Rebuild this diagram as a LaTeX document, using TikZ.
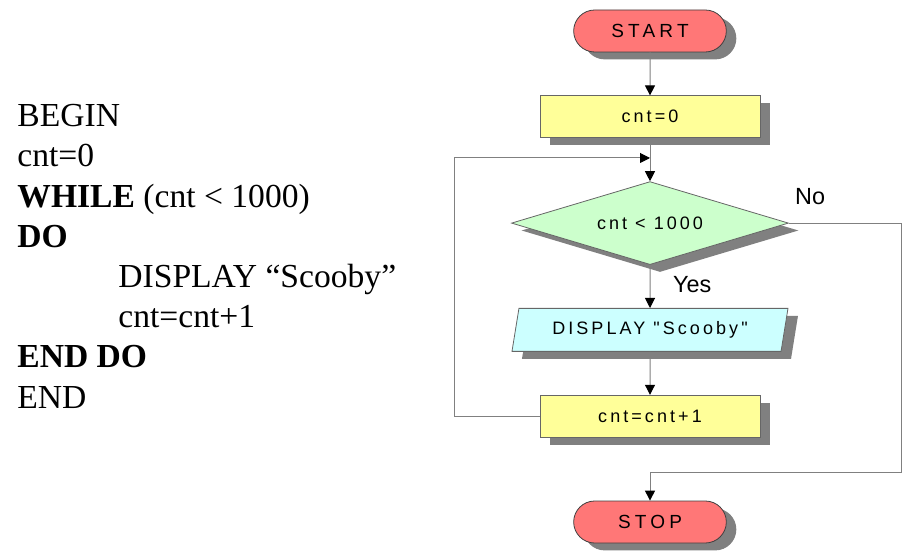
\documentclass[tikz,border=0pt]{standalone}
\usepackage{fontspec}
\setmainfont{Liberation Serif}
\newfontfamily\boxfamily[LetterSpace=17]{Liberation Sans}
\newfontfamily\termfamily[LetterSpace=22]{Liberation Sans}
\newfontfamily\labelfamily{Liberation Sans}
\usetikzlibrary{shapes.geometric,shapes.misc,shadows,arrows.meta,positioning}
\definecolor{termred}{HTML}{FF7777}
\definecolor{procyellow}{HTML}{FFFF99}
\definecolor{decgreen}{HTML}{CCFFCC}
\definecolor{iocyan}{HTML}{CCFFFF}
\newcommand\boxfont{\boxfamily\fontsize{9pt}{11pt}\selectfont}
\newcommand\termfont{\termfamily\fontsize{9.5pt}{11pt}\selectfont}
\newcommand\lblfont{\labelfamily\fontsize{11.7pt}{14pt}\selectfont}
\newcommand\codefont{\fontsize{16.8pt}{20pt}\selectfont}

\begin{document}
\begin{tikzpicture}
  [
    x=0.5pt,y=-0.5pt,
    node distance=21.5pt,
    shade/.style={drop shadow={shadow xshift=5pt,shadow yshift=-3.7pt,fill=black!50,opacity=1}},
    term/.style={rounded rectangle, draw=black!75, line width=0.4pt, fill=termred, minimum width=83pt, minimum height=21pt, font=\termfont, shade},
    proc/.style={rectangle, draw=black!60, line width=0.4pt, fill=procyellow, minimum width=110pt, minimum height=21pt, font=\boxfont, shade},
    decision/.style={diamond, aspect=3.3, draw=black!60, line width=0.4pt, fill=decgreen, minimum width=138.5pt, minimum height=41.5pt, inner sep=1pt, font=\boxfont, shade},
    io/.style={trapezium, trapezium left angle=77, trapezium right angle=103, trapezium stretches body, draw=black!60, line width=0.4pt, fill=iocyan, minimum width=138pt, minimum height=21.5pt, font=\boxfont, shade},
    lbl/.style={font=\lblfont},
    flow/.style={draw=black!50, line width=0.5pt, -{Triangle[color=black,length=5pt,width=5pt]}}
  ]
  \useasboundingbox (0,0) rectangle (917,560);

  % pseudo code
  \foreach \txt/\xx [count=\i] in {BEGIN/17, cnt=0/17, {\textbf{WHILE} (cnt < 1000)}/17, \textbf{DO}/17,
      DISPLAY “Scooby”/118, cnt=cnt+1/118, \textbf{END DO}/17, END/17}
    \node[anchor=base west, inner sep=0, font=\codefont] (code\i) at ({\xx},{126.7+40.2*(\i-1)}) {\txt};

  % flowchart
  \node[term] (start) at (650,31) {START};
  \node[proc, below=of start] (cnt0) {cnt=0};
  \node[decision, below=of cnt0] (cond) {cnt < 1000};
  \node[io, below=of cond] (show) {DISPLAY "Scooby"};
  \node[proc, below=of show] (cnt1) {cnt=cnt+1};
  \node[term, below=31.5pt of cnt1] (stop) {STOP};

  \coordinate (merge) at (650,158);
  \coordinate (noturn) at (901,473);

  \draw[flow] (start) -- (cnt0);
  \draw[flow] (cnt0) -- (cond);
  \draw[flow] (cond) -- node[lbl, right=8pt, pos=0.45] {Yes} (show);
  \draw[flow] (show) -- (cnt1);
  \draw[flow] (cnt1.west) -- ++(-85,0) |- (merge);
  \draw[flow] (cond.east) -- node[lbl, above=5.5pt, pos=0.19] {No} (cond.east -| noturn) -- (noturn) -| (stop.north);
\end{tikzpicture}
\end{document}
